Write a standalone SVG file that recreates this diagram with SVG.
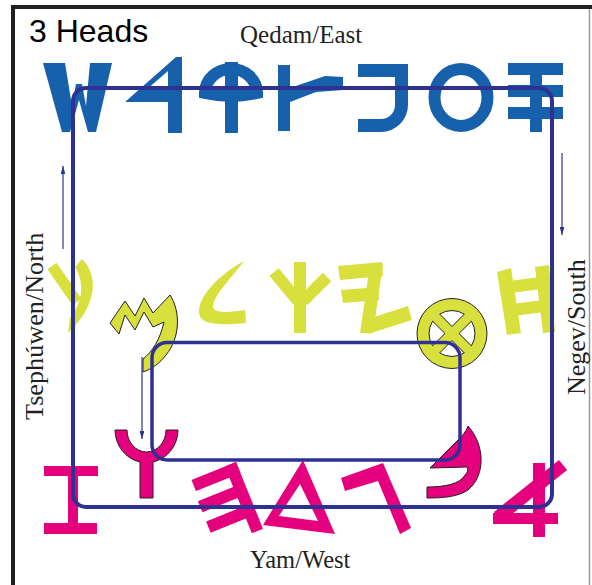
<svg xmlns="http://www.w3.org/2000/svg" width="592" height="585" viewBox="0 0 592 585">
<style>
.lbl{font-family:"Liberation Serif","Times New Roman",serif;fill:#231f20}
.bl{fill:#1760ac}
.yl{fill:#d8e03e}
.mg{fill:#e5007d}
.ol{stroke:#231f20;stroke-width:1}
.loop{fill:none;stroke:#2e3192}
.arr{stroke:#2e3192;stroke-width:1.2;fill:none}
</style>
<defs>
<marker id="ah" viewBox="0 0 10 6" refX="10" refY="3" markerWidth="8" markerHeight="4.8" orient="auto" markerUnits="userSpaceOnUse">
<path d="M0,0 L10,3 L0,6 Z" fill="#2e3192"/>
</marker>
</defs>
<rect width="592" height="585" fill="#fff"/>
<g id="frame">
<line x1="12" y1="7" x2="592" y2="7" stroke="#231f20" stroke-width="4"/>
<line x1="13" y1="5" x2="13" y2="585" stroke="#231f20" stroke-width="4"/>
<line x1="589.5" y1="9" x2="589.5" y2="585" stroke="#999" stroke-width="1.5"/>
</g>
<text id="title" x="29" y="42" font-family="Liberation Sans, Arial, sans-serif" font-size="32" fill="#000">3 Heads</text>
<text id="east" class="lbl" x="240" y="43" font-size="25">Qedam/East</text>
<text id="west" class="lbl" x="250" y="568" font-size="24.5">Yam/West</text>
<text id="north" class="lbl" font-size="26.2" transform="translate(43,420) rotate(-90)">Tsephúwen/North</text>
<text id="south" class="lbl" font-size="26" transform="translate(585,395) rotate(-90)">Negev/South</text>

<g id="row-east">
<g id="shin"><polygon class="bl" points="43,63 65,63 72,106 76,84 82,84 86,106 90,63 112,63 96,132 88,132 79,100 70,132 62,132"/></g>
<g id="dalet"><path class="bl" fill-rule="evenodd" d="M182,57 L182,133 L168,133 L168,102 L125,102 L176,57 Z M168,71 L168,90 L146,90 Z"/></g>
<g id="qoph"><path d="M205,93 A26,24 0 0 1 257,93 Q231,99 205,93 Z" fill="none" stroke="#1760ac" stroke-width="12"/><rect class="bl" x="225" y="62" width="13" height="71"/></g>
<g id="lamed"><rect class="bl" x="278" y="65" width="12" height="66"/><polygon class="bl" points="290,88 325,76 343,77 343,90 316,92 290,102"/></g>
<g id="pe"><path class="bl" d="M358,64 H408 V105 A27,27 0 0 1 381,132 H358 V119 H381 A14,14 0 0 0 395,105 V77 H358 Z"/></g>
<g id="ayin"><ellipse cx="461" cy="97.5" rx="26.5" ry="28.5" fill="none" stroke="#1760ac" stroke-width="12"/></g>
<g id="samekh"><rect class="bl" x="508" y="63" width="55" height="12"/><rect class="bl" x="508" y="85" width="55" height="12"/><rect class="bl" x="508" y="107" width="55" height="12"/><rect class="bl" x="530" y="63" width="12" height="69"/></g>
</g>

<g id="row-middle">
<g id="tsade"><line x1="52" y1="266" x2="77" y2="302" stroke="#d8e03e" stroke-width="11"/><path class="yl" d="M82,259 C97,273 100,303 68,333 L70,318 C84,300 84,282 75,267 Z"/></g>
<g id="mem"><path class="yl ol" d="M110,323 L125,301 L135,316 L144,298 L153,313 L170,295 C181,312 180,338 166,355 C160,363 152,369 143,372 L143,359 C152,352 160,340 164,322 L153,327 L144,312 L135,330 L125,315 L119,334 Z"/></g>
<g id="kaph"><path class="yl" d="M244,261 C220,274 198,296 199,313 C200,324 216,326 246,323 L245,310 C232,312 214,314 213,307 C213,296 230,280 244,261 Z"/></g>
<g id="tsade2"><rect class="yl" x="294" y="262" width="12" height="71"/><line x1="274" y1="272" x2="298" y2="301" stroke="#d8e03e" stroke-width="12"/><line x1="303" y1="301" x2="327" y2="277" stroke="#d8e03e" stroke-width="12"/></g>
<g id="zayin"><polygon class="yl" points="338,266 382,262 383,276 340,280"/><polygon class="yl" points="341,290 378,287 379,300 343,303"/><polygon class="yl" points="370,264 383,264 373,333 360,333"/><polygon class="yl" points="365,320 408,306 412,320 368,334"/></g>
<g id="teth" transform="translate(452,333.5)">
<circle r="35" class="yl ol"/>
<path id="wedge" d="M0,-7 L12.3,-19.4 A23,23 0 0 0 -12.3,-19.4 Z" fill="#fff" stroke="#231f20" stroke-width="1"/>
<use href="#wedge" transform="rotate(90)"/><use href="#wedge" transform="rotate(180)"/><use href="#wedge" transform="rotate(270)"/>
</g>
<g id="heth"><polygon class="yl" points="497,272 511,268 521,333 507,335"/><polygon class="yl" points="535,267 549,265 555,332 543,333"/><polygon class="yl" points="509,281 540,277 541,289 511,293"/><polygon class="yl" points="512,304 543,300 544,312 514,316"/></g>
</g>

<g id="row-west">
<g id="taw"><rect class="mg" x="44" y="466" width="54" height="10"/><rect class="mg" x="68" y="476" width="10" height="48"/><rect class="mg" x="44" y="523" width="53" height="11"/></g>
<g id="yod"><path class="mg ol" d="M115,430 H127 A19.5,22 0 0 0 166,430 H178 A31.5,33 0 0 1 153,462 V498 H140 V462 A31.5,33 0 0 1 115,430 Z"/></g>
<g id="he" transform="translate(236,462) rotate(-22)"><rect class="mg" x="-12" y="0" width="12" height="72"/><rect class="mg" x="-48" y="0" width="48" height="12"/><rect class="mg" x="-50" y="22" width="40" height="12"/><rect class="mg" x="-50" y="44" width="40" height="12"/></g>
<g id="dalet2"><path class="mg" fill-rule="evenodd" d="M303,460 L335,534 L263,525 Z M300,484 L318,521 L279,516 Z"/></g>
<g id="gimel"><polygon class="mg" points="341,478 383,463 411,528 400,534 378,481 345,491"/></g>
<g id="bet"><path class="mg ol" d="M468,426 C485,445 486,475 468,490 C458,497 442,498 427,498 L427,487 C445,487 460,484 465,475 C468,472 468,469 467,467 L430,468 L458,440 C462,436 466,432 468,426 Z"/></g>
<g id="aleph"><rect class="mg" x="533" y="463" width="12" height="74"/><rect class="mg" x="493" y="513" width="65" height="11"/><line x1="563" y1="465" x2="498" y2="517" stroke="#e5007d" stroke-width="13"/></g>
</g>

<g id="loops">
<rect class="loop" x="73" y="88" width="479" height="419" rx="13" stroke-width="4"/>
<rect class="loop" x="152" y="342.5" width="308" height="117.5" rx="15" stroke-width="3.5"/>
</g>
<g id="connectors">
<line class="arr" x1="63" y1="249" x2="63" y2="166" marker-end="url(#ah)"/>
<line class="arr" x1="562" y1="153" x2="562" y2="235" marker-end="url(#ah)"/>
<line class="arr" x1="142" y1="357" x2="142" y2="439" marker-end="url(#ah)"/>
</g>
</svg>
